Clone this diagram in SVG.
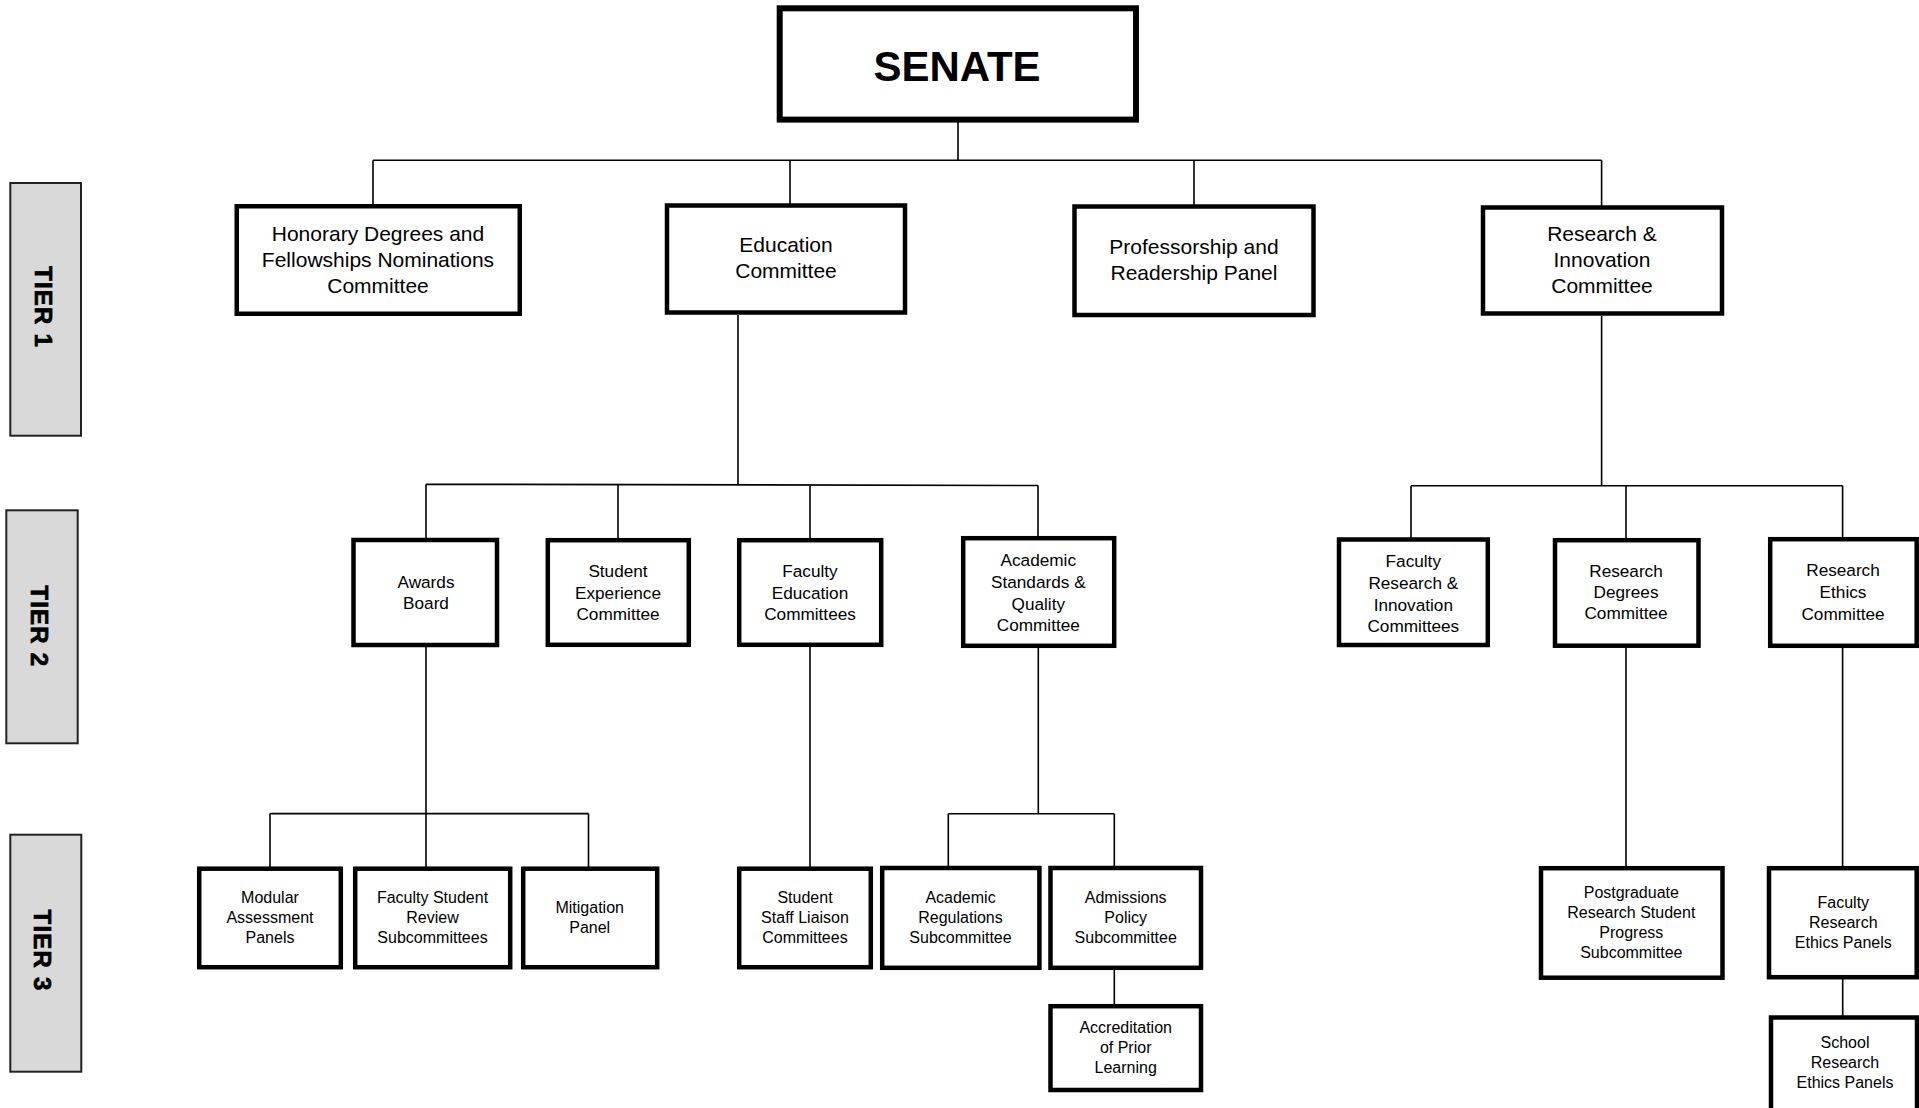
<svg xmlns="http://www.w3.org/2000/svg" width="1919" height="1108" viewBox="0 0 1919 1108">
<style>
.bg{fill:#fff}
.box{fill:#fff;stroke:#000;stroke-width:4.5}
.senate{fill:#fff;stroke:#000;stroke-width:6}
.tier{fill:#d9d9d9;stroke:#222;stroke-width:2}
.conn{fill:none;stroke:#000;stroke-width:1.6}
text{font-family:"Liberation Sans",Arial,sans-serif;fill:#000;text-anchor:middle}
.t0{font-size:42px;font-weight:bold}
.t1{font-size:21px}
.t2{font-size:17.2px}
.t3{font-size:16px}
.tl{font-size:24px;font-weight:bold;letter-spacing:1.2px;stroke:#000;stroke-width:0.7}
</style>
<rect class="bg" x="0" y="0" width="1919" height="1108"/>

<g id="tier-labels">
  <g id="tier1"><rect class="tier" x="10.3" y="183" width="70.7" height="252.7"/><text class="tl" transform="translate(35,307) rotate(90)">TIER 1</text></g>
  <g id="tier2"><rect class="tier" x="6.3" y="510.3" width="71.4" height="233"/><text class="tl" transform="translate(30.7,626.3) rotate(90)">TIER 2</text></g>
  <g id="tier3"><rect class="tier" x="10.3" y="834.7" width="71" height="237"/><text class="tl" transform="translate(34.3,950.5) rotate(90)">TIER 3</text></g>
</g>

<g id="connectors">
  <path class="conn" d="M958,122 V160.3 M373,160.3 H1601.6 M373,160.3 V205 M790,160.3 V204 M1194,160.3 V205 M1601.6,160.3 V206"/>
  <path class="conn" d="M738,315 V484.5 M426,484.2 L1038,485.5 M426,484.2 V539 M618,484.6 V539 M810,485 V539 M1038,485.5 V537"/>
  <path class="conn" d="M1601.6,316 V485.7 M1411,485.7 H1842.6 M1411,485.7 V538 M1626,485.7 V539 M1842.6,485.7 V538"/>
  <path class="conn" d="M426,647 V813.6 M270,813.6 H588.5 M270,813.6 V867 M426,813.6 V867 M588.5,813.6 V867"/>
  <path class="conn" d="M810,647 V867"/>
  <path class="conn" d="M1038.3,648 V813.7 M948.3,813.7 H1114.3 M948.3,813.7 V866 M1114.3,813.7 V866 M1114.3,970 V1005"/>
  <path class="conn" d="M1626,648 V867"/>
  <path class="conn" d="M1842.6,648 V867 M1842.7,979 V1016"/>
</g>

<g id="senate"><rect class="senate" x="779.7" y="8.3" width="356.3" height="111.3"/><text class="t0" x="957" y="81">SENATE</text></g>

<g id="honorary"><rect class="box" x="236.75" y="206.25" width="283" height="107.5"/><text class="t1" x="378" y="241">Honorary Degrees and</text><text class="t1" x="378" y="267">Fellowships Nominations</text><text class="t1" x="378" y="293">Committee</text></g>
<g id="education"><rect class="box" x="667" y="205.5" width="238" height="107"/><text class="t1" x="786" y="252">Education</text><text class="t1" x="786" y="278">Committee</text></g>
<g id="professorship"><rect class="box" x="1074.5" y="206.5" width="239" height="108.5"/><text class="t1" x="1194" y="253.6">Professorship and</text><text class="t1" x="1194" y="279.6">Readership Panel</text></g>
<g id="research-innovation"><rect class="box" x="1483" y="207.5" width="239" height="106"/><text class="t1" x="1602" y="241">Research &amp;</text><text class="t1" x="1602" y="267">Innovation</text><text class="t1" x="1602" y="293">Committee</text></g>

<g id="awards"><rect class="box" x="353.5" y="540" width="143.5" height="105"/><text class="t2" x="426" y="588">Awards</text><text class="t2" x="426" y="609">Board</text></g>
<g id="student-experience"><rect class="box" x="547.8" y="540.2" width="141" height="104.6"/><text class="t2" x="618" y="577.3">Student</text><text class="t2" x="618" y="598.5">Experience</text><text class="t2" x="618" y="620">Committee</text></g>
<g id="faculty-education"><rect class="box" x="739.2" y="540.2" width="142" height="104.6"/><text class="t2" x="810" y="577.3">Faculty</text><text class="t2" x="810" y="598.5">Education</text><text class="t2" x="810" y="620">Committees</text></g>
<g id="academic-standards"><rect class="box" x="963.2" y="538.2" width="151" height="107.6"/><text class="t2" x="1038.3" y="566">Academic</text><text class="t2" x="1038.3" y="588">Standards &amp;</text><text class="t2" x="1038.3" y="610">Quality</text><text class="t2" x="1038.3" y="631.4">Committee</text></g>
<g id="faculty-ri"><rect class="box" x="1339" y="539.5" width="148.8" height="105.5"/><text class="t2" x="1413.3" y="567.3">Faculty</text><text class="t2" x="1413.3" y="589">Research &amp;</text><text class="t2" x="1413.3" y="610.7">Innovation</text><text class="t2" x="1413.3" y="632">Committees</text></g>
<g id="research-degrees"><rect class="box" x="1555" y="540.2" width="143.5" height="105.5"/><text class="t2" x="1626" y="577.3">Research</text><text class="t2" x="1626" y="598.3">Degrees</text><text class="t2" x="1626" y="619.3">Committee</text></g>
<g id="research-ethics"><rect class="box" x="1770.2" y="539.2" width="146.5" height="106.6"/><text class="t2" x="1843" y="576">Research</text><text class="t2" x="1843" y="598">Ethics</text><text class="t2" x="1843" y="619.5">Committee</text></g>

<g id="modular"><rect class="box" x="199.2" y="868.7" width="141.6" height="98.5"/><text class="t3" x="270" y="902.5">Modular</text><text class="t3" x="270" y="922.5">Assessment</text><text class="t3" x="270" y="942.5">Panels</text></g>
<g id="fsrs"><rect class="box" x="355.2" y="868.7" width="155" height="98.5"/><text class="t3" x="432.5" y="902.5">Faculty Student</text><text class="t3" x="432.5" y="922.5">Review</text><text class="t3" x="432.5" y="942.5">Subcommittees</text></g>
<g id="mitigation"><rect class="box" x="523.2" y="868.7" width="134" height="98.5"/><text class="t3" x="589.7" y="912.5">Mitigation</text><text class="t3" x="589.7" y="932.5">Panel</text></g>
<g id="sslc"><rect class="box" x="739.2" y="868.7" width="131.6" height="98.5"/><text class="t3" x="805" y="902.5">Student</text><text class="t3" x="805" y="922.5">Staff Liaison</text><text class="t3" x="805" y="942.5">Committees</text></g>
<g id="academic-regulations"><rect class="box" x="882.2" y="868" width="157.2" height="99.8"/><text class="t3" x="960.5" y="903.3">Academic</text><text class="t3" x="960.5" y="923.3">Regulations</text><text class="t3" x="960.5" y="943.3">Subcommittee</text></g>
<g id="admissions"><rect class="box" x="1050.5" y="868" width="150.5" height="99.8"/><text class="t3" x="1125.7" y="903.3">Admissions</text><text class="t3" x="1125.7" y="923.3">Policy</text><text class="t3" x="1125.7" y="943.3">Subcommittee</text></g>
<g id="accreditation"><rect class="box" x="1050.5" y="1006.2" width="150.5" height="83.8"/><text class="t3" x="1125.7" y="1033.3">Accreditation</text><text class="t3" x="1125.7" y="1053.3">of Prior</text><text class="t3" x="1125.7" y="1073.3">Learning</text></g>
<g id="postgraduate"><rect class="box" x="1541" y="868.2" width="181.5" height="109.5"/><text class="t3" x="1631.3" y="897.7">Postgraduate</text><text class="t3" x="1631.3" y="918">Research Student</text><text class="t3" x="1631.3" y="938.3">Progress</text><text class="t3" x="1631.3" y="957.7">Subcommittee</text></g>
<g id="faculty-rep"><rect class="box" x="1769" y="868.2" width="147.7" height="109"/><text class="t3" x="1843.3" y="908">Faculty</text><text class="t3" x="1843.3" y="928">Research</text><text class="t3" x="1843.3" y="947.5">Ethics Panels</text></g>
<g id="school-rep"><rect class="box" x="1771" y="1017.5" width="146" height="100"/><text class="t3" x="1845" y="1048.3">School</text><text class="t3" x="1845" y="1068">Research</text><text class="t3" x="1845" y="1088.3">Ethics Panels</text></g>
</svg>
